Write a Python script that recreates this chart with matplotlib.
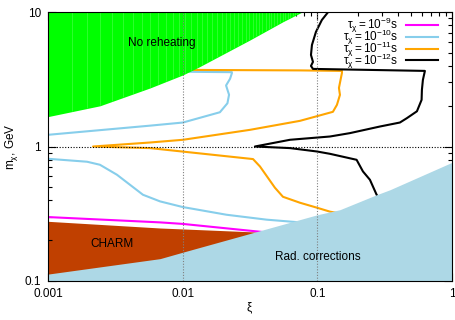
import numpy as np
import matplotlib
matplotlib.use('Agg')
import matplotlib.pyplot as plt
from matplotlib.ticker import FixedLocator, FixedFormatter, LogLocator, NullFormatter

plt.rcParams['font.family'] = ['Liberation Sans', 'DejaVu Sans']
plt.rcParams['mathtext.fontset'] = 'custom'
plt.rcParams['mathtext.rm'] = 'Liberation Sans'
plt.rcParams['mathtext.it'] = 'Liberation Sans:italic'
plt.rcParams['font.size'] = 8.5

# excluded regions
noreh_xi = [0.001, 0.00243, 0.00572, 0.01, 0.0134, 0.0316, 0.0556, 0.0764]
noreh_m = [1.67, 2.01, 2.73, 3.41, 3.94, 6.22, 8.51, 10.0]

charm_xi = [0.001, 0.00679, 0.0413, 0.07]
charm_m = [0.277, 0.247, 0.229, 0.225]

rad_xi = [0.001, 0.00679, 0.01, 0.1, 0.147, 0.2756, 0.346, 1.0]
rad_m = [0.112, 0.146, 0.163, 0.31, 0.338, 0.437, 0.476, 0.762]

# lifetime contours
tau9_xi = [0.001, 0.00679, 0.01, 0.042, 0.2, 1.0]
tau9_m = [0.298, 0.272, 0.265, 0.229, 0.224, 0.222]

tau10_up_xi = [0.001, 0.00572, 0.01005, 0.0189, 0.0215, 0.0221, 0.021, 0.0225, 0.0232, 0.0232, 0.0123, 0.008]
tau10_up_m = [1.222, 1.43, 1.509, 1.80, 2.1, 2.43, 2.85, 3.2, 3.52, 3.58, 3.6, 3.62]
tau10_lo_xi = [0.001, 0.00195, 0.00243, 0.00325, 0.00507, 0.00679, 0.01, 0.0212, 0.042, 0.0743, 0.12]
tau10_lo_m = [0.81, 0.77, 0.731, 0.616, 0.437, 0.39, 0.354, 0.31, 0.285, 0.272, 0.262]

tau11_xi = [0.008, 0.01233, 0.0743, 0.1523, 0.1523, 0.1447, 0.1472, 0.1398, 0.1305, 0.0743, 0.0316,
            0.01005, 0.00572, 0.00216, 0.00572, 0.0333, 0.0375, 0.04295, 0.04842, 0.05555, 0.0743,
            0.0993, 0.1241, 0.2]
tau11_m = [3.73, 3.72, 3.69, 3.66, 3.535, 2.734, 2.425, 2.043, 1.813, 1.553, 1.331,
           1.122, 1.071, 1.0, 0.973, 0.806, 0.710, 0.585, 0.493, 0.422, 0.381,
           0.350, 0.327, 0.30]

tau12_xi = [0.1199, 0.108, 0.0976, 0.0912, 0.0897, 0.0928, 0.0897, 0.0928, 0.6292, 0.608, 0.5978,
            0.5946, 0.549, 0.4626, 0.4104, 0.2915, 0.1746, 0.1241, 0.0626, 0.0344, 0.0626, 0.0993,
            0.1241, 0.1957, 0.2181, 0.2458, 0.2756, 0.3]
tau12_m = [10.0, 8.76, 7.135, 5.71, 4.81, 4.27, 3.985, 3.786, 3.659, 3.135, 2.642,
           2.226, 1.83, 1.627, 1.509, 1.409, 1.258, 1.187, 1.122, 1.0, 0.973, 0.918,
           0.882, 0.796, 0.652, 0.565, 0.437, 0.39]

x_ticks = [0.001, 0.01, 0.1, 1]
x_labels = ['0.001', '0.01', '0.1', '1']
y_ticks = [0.1, 1, 10]
y_labels = ['0.1', '1', '10']

fig = plt.figure(figsize=(4.56, 3.2), dpi=100)
ax = fig.add_axes([48 / 456, 1 - 280.7 / 320, 404 / 456, 268.4 / 320])
ax.set_xscale('log')
ax.set_yscale('log')
ax.set_xlim(0.001, 1)
ax.set_ylim(0.1, 10)

lw = 1.5
ax.plot(tau9_xi, tau9_m, color='#ff00ff', lw=lw, label=r'$\mathregular{\tau_\chi=10^{-9}s}$', zorder=2)
ax.plot(tau10_up_xi, tau10_up_m, color='#87ceeb', lw=lw, label=r'$\mathregular{\tau_\chi=10^{-10}s}$', zorder=2)
ax.plot(tau10_lo_xi, tau10_lo_m, color='#87ceeb', lw=lw, zorder=2)
ax.plot(tau11_xi, tau11_m, color='#ffa500', lw=lw, label=r'$\mathregular{\tau_\chi=10^{-11}s}$', zorder=2)
ax.plot(tau12_xi, tau12_m, color='black', lw=lw, label=r'$\mathregular{\tau_\chi=10^{-12}s}$', zorder=2)

ax.fill_between(charm_xi, charm_m, 0.05, color='#c04000', lw=0, zorder=1)
ax.fill_between(rad_xi, rad_m, 0.05, color='#add8e6', lw=0, zorder=3)
green = ax.fill_between(noreh_xi, noreh_m, 20, color='#00ff00', lw=0, zorder=3)

# faint sampling seams across the green band
for xs in np.arange(np.sqrt(0.0015), np.sqrt(0.08), 0.0053) ** 2:
    seam = ax.axvline(xs, color='white', lw=0.5, alpha=0.25, zorder=3.1)
    seam.set_clip_path(green.get_paths()[0], ax.transData)

for xv in [0.01, 0.1]:
    ax.axvline(xv, color='#808080', lw=0.8, ls=(0, (1, 1.5)), zorder=4)
ax.axhline(1, color='black', lw=0.8, ls=(0, (1, 1.5)), zorder=4)

ax.text(0.00696, 5.94, 'No reheating', ha='center', va='center', zorder=5)
ax.text(0.002985, 0.189, 'CHARM', ha='center', va='center', zorder=5)
ax.text(0.1002, 0.150, 'Rad. corrections', ha='center', va='center', zorder=5)

ax.set_xlabel(r'$\mathregular{\xi}$', labelpad=1)
ax.set_ylabel(r'$\mathregular{m_\chi}$, GeV', labelpad=3)

for axis, ticks, labels in [(ax.xaxis, x_ticks, x_labels), (ax.yaxis, y_ticks, y_labels)]:
    axis.set_major_locator(FixedLocator(ticks))
    axis.set_major_formatter(FixedFormatter(labels))
    axis.set_minor_locator(LogLocator(base=10, subs=np.arange(2, 10)))
    axis.set_minor_formatter(NullFormatter())
ax.tick_params(which='both', direction='in', top=True, right=True, width=0.8)
ax.tick_params(which='major', length=6, pad=5, labelsize=8.5)
ax.tick_params(which='minor', length=3)
for sp in ax.spines.values():
    sp.set_linewidth(0.8)
    sp.set_zorder(6)

ax.legend(loc='upper right', bbox_to_anchor=(0.965, 0.987), borderaxespad=0, borderpad=0,
          frameon=False, markerfirst=False, handlelength=2.7, handletextpad=0.7,
          labelspacing=-0.62, fontsize=8.5)

fig.savefig('out.png', dpi=100)
